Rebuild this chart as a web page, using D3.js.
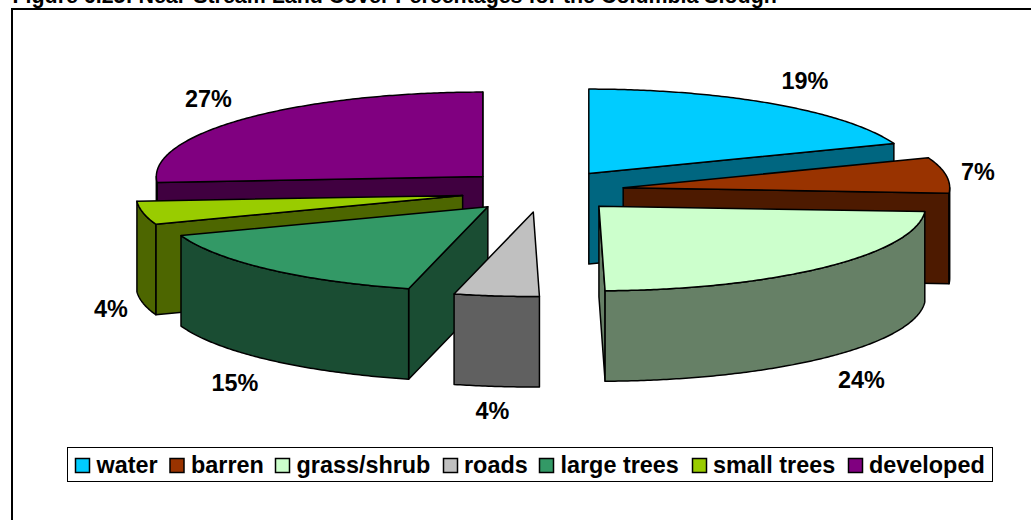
<!DOCTYPE html>
<html>
<head>
<meta charset="utf-8">
<script src="https://cdn.jsdelivr.net/npm/d3@7"></script>
<style>
html,body{margin:0;padding:0;background:#fff;overflow:hidden}
text{font-family:"Liberation Sans",Arial,sans-serif;font-weight:bold;fill:#000}
</style>
</head>
<body>
<script>
const titleText = "Figure 6.25: Near-Stream Land Cover Percentages for the Columbia Slough";
const categories = ["water","barren","grass/shrub","roads","large trees","small trees","developed"];
const values = [19.2, 6.8, 23.7, 4.2, 15.55, 4.45, 26.1];
const topColors = ["#00CCFF","#993300","#CCFFCC","#C0C0C0","#339966","#99CC00","#800080"];
const sideColors = ["#006680","#4D1A00","#668066","#606060","#1A4D33","#4D6600","#400040"];
const labelText = ["19%","7%","24%","4%","15%","4%","27%"];

const W = 1031, H = 520;
const cx = 542.5, cy = 191, rx = 326.5, ry = 84.5, depth = 90.5, explode = 0.25;
const labelPos = [[805,89],[978,180],[861.5,388],[492.5,419],[235,391],[111,317],[208.5,107]];
const legendX = [75,169.5,275,443,539,692,848];
const legendTextX = [96.5,191,296.5,464,560.5,713,869];

const svg = d3.select("body").append("svg").attr("width",W).attr("height",H).style("display","block");

// frame (runs off the right and bottom of the picture)
svg.append("path").attr("d","M12 "+H+"V9H"+W).attr("fill","none").attr("stroke","#000").attr("stroke-width",2);
svg.append("text").attr("x",12.5).attr("y",3).attr("font-size",21.4).text(titleText);

const pie = d3.pie().sort(null).startAngle(0).endAngle(2*Math.PI);
const arcs = pie(values).map((d,i)=>({...d,i}));
const line = d3.line();

function pt(o,a,dz){ return [o[0]+rx*Math.sin(a), o[1]-ry*Math.cos(a)+(dz||0)]; }
function sample(a0,a1){ const n=Math.max(2,Math.ceil(Math.abs(a1-a0)/0.01)); return d3.range(n+1).map(k=>a0+(a1-a0)*k/n); }

function apex(d){
  const m=(d.startAngle+d.endAngle)/2;
  return [cx+explode*rx*Math.sin(m), cy-explode*ry*Math.cos(m)];
}
function face(g,pts,fill){
  g.append("path").attr("d",line(pts)+"Z").attr("fill",fill).attr("stroke","#000")
   .attr("stroke-width",1.5).attr("stroke-linejoin","round");
}
function drawSlice(d){
  const g=svg.append("g").attr("class","slice");
  const o=apex(d), a0=d.startAngle, a1=d.endAngle, side=sideColors[d.i], top=topColors[d.i];
  const o2=[o[0],o[1]+depth];
  if(Math.sin(a0)<0){ const p=pt(o,a0); face(g,[o,p,[p[0],p[1]+depth],o2],side); }
  if(Math.sin(a1)>0){ const p=pt(o,a1); face(g,[o,p,[p[0],p[1]+depth],o2],side); }
  const r0=Math.max(a0,Math.PI/2), r1=Math.min(a1,3*Math.PI/2);
  if(r1>r0){
    const s=sample(r0,r1);
    face(g,s.map(a=>pt(o,a)).concat(s.slice().reverse().map(a=>pt(o,a,depth))),side);
  }
  face(g,[o].concat(sample(a0,a1).map(a=>pt(o,a))),top);
}
// painter's order: back slices first
[6,0,1,2,5,4,3].forEach(i=>drawSlice(arcs[i]));

svg.append("g").selectAll("text").data(labelText).join("text")
  .attr("x",(d,i)=>labelPos[i][0]).attr("y",(d,i)=>labelPos[i][1])
  .attr("text-anchor","middle").attr("font-size",23.4).text(d=>d);

// legend
const lg=svg.append("g");
lg.append("rect").attr("x",67.5).attr("y",447.5).attr("width",925).attr("height",34)
  .attr("fill","#fff").attr("stroke","#000").attr("stroke-width",1);
const items=lg.selectAll("g").data(categories).join("g");
items.append("rect").attr("x",(d,i)=>legendX[i]+0.5).attr("y",458.5).attr("width",14).attr("height",14)
  .attr("fill",(d,i)=>topColors[i]).attr("stroke","#000").attr("stroke-width",1.5);
items.append("text").attr("x",(d,i)=>legendTextX[i]).attr("y",473).attr("font-size",23.4).text(d=>d);
</script>
</body>
</html>
